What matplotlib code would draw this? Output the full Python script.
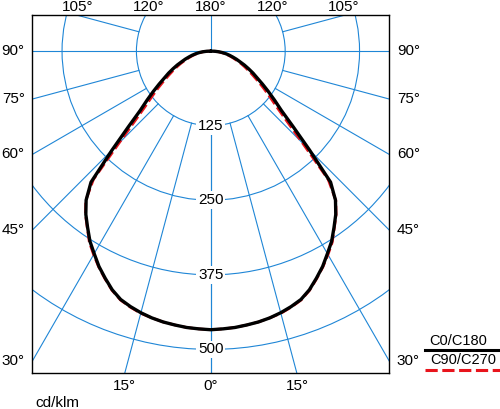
import numpy as np
import matplotlib
matplotlib.use('Agg')
import matplotlib.pyplot as plt
from matplotlib.patches import Circle
from matplotlib.lines import Line2D

plt.rcParams['font.family'] = ['Liberation Sans', 'DejaVu Sans']

# gamma angle from nadir (deg) and luminous intensity (cd/klm)
gamma = [0, 2.5, 5, 7.5, 10, 12.5, 15, 17.5, 20, 22.5, 25, 27.5, 30, 32.5, 35, 37.5, 40, 42.5, 45,
         47.5, 50, 52.5, 55, 57.5, 60, 62.5, 65, 67.5, 70, 72.5, 75, 77.5, 80, 82.5, 85, 87.5, 90]
c0_c180 = [467, 466, 465, 463, 461, 458, 454, 449, 443, 433, 420, 407, 392, 378, 361, 345, 326, 298, 235,
           188, 155, 135, 118, 103, 90, 80, 70, 61, 52, 45, 38, 32, 26, 20, 14, 7, 0]
c90_c270 = [467, 466, 465, 463, 461, 458, 455, 450, 444, 434, 421, 408, 394, 380, 362, 346, 327, 292, 218,
            172, 143, 124, 108, 94, 82, 72, 63, 55, 47, 40, 34, 28, 23, 17, 12, 6, 0]

# grid
rings = [125, 250, 375, 500]
ring_labels = ['125', '250', '375', '500']
spokes = [0, 15, 30, 45, 60, 75, 90, 105, 120]

blue = '#1f86d6'
FS = 11
XMIN, XMAX, YMIN, YMAX = -300, 300, -540, 60

fig = plt.figure(figsize=(5, 4.09), dpi=100)
ax = fig.add_axes([0.0646, 0.0873, 0.714, 0.8753])
ax.set_xlim(XMIN, XMAX)
ax.set_ylim(YMIN, YMAX)
ax.set_xticks([])
ax.set_yticks([])
for s in ax.spines.values():
    s.set_linewidth(1.0)
    s.set_zorder(10)

# circles
for r in rings:
    ax.add_patch(Circle((0, 0), r, fill=False, ec=blue, lw=0.8, zorder=1))

# spokes, starting at the first ring
for g in spokes:
    t = np.radians(g)
    for side in (-1, 1):
        start = 0 if g == 90 else rings[0]
        ax.plot([side * start * np.sin(t), side * 1000 * np.sin(t)],
                [-start * np.cos(t), -1000 * np.cos(t)], color=blue, lw=0.8, zorder=1)
ax.plot([0, 0], [0, 1000], color=blue, lw=0.8, zorder=1)

# ring value labels
for r, lab in zip(rings, ring_labels):
    ax.text(0, -r, lab, ha='center', va='center', fontsize=FS, zorder=5,
            bbox=dict(boxstyle='square,pad=0.12', fc='white', ec='none'))


# angle labels where the spoke meets the frame
def frame_hit(g, side):
    t = np.radians(g)
    dx = side * np.sin(t)
    dy = -np.cos(t)
    tx = (XMAX if dx > 0 else XMIN) / dx if abs(dx) > 1e-9 else np.inf
    ty = (YMAX if dy > 0 else YMIN) / dy if abs(dy) > 1e-9 else np.inf
    if tx < ty:
        return tx * dx, tx * dy, 'side'
    return ty * dx, ty * dy, 'tb'


angle_labels = [(g, side) for g in spokes for side in (-1, 1) if not (g == 0 and side == 1)]
angle_labels.append((180, 1))
for g, side in angle_labels:
    x, y, edge = frame_hit(g, side)
    lab = f'{g}°'
    if edge == 'side':
        off = (-5.5, 0) if x < 0 else (5.5, 0)
        ha = 'right' if x < 0 else 'left'
        ax.annotate(lab, (x, y), xytext=off, textcoords='offset points',
                    ha=ha, va='center', fontsize=FS, annotation_clip=False)
    elif y < 0:
        ax.annotate(lab, (x, y), xytext=(0, -4), textcoords='offset points',
                    ha='center', va='top', fontsize=FS, annotation_clip=False)
    else:
        ax.annotate(lab, (x, y), xytext=(0, 3), textcoords='offset points',
                    ha='center', va='baseline', fontsize=FS, annotation_clip=False)

# curves, mirrored to both sides
g_rad = np.radians(gamma)


def full_curve(vals):
    v = np.array(vals, dtype=float)
    x = np.concatenate([-v[::-1] * np.sin(g_rad[::-1]), v[1:] * np.sin(g_rad[1:])])
    y = np.concatenate([-v[::-1] * np.cos(g_rad[::-1]), -v[1:] * np.cos(g_rad[1:])])
    return x, y


xr, yr = full_curve(c90_c270)
ax.plot(xr, yr, color='#e8141c', lw=1.9, ls=(0, (4, 1.5)), zorder=3)
xb, yb = full_curve(c0_c180)
ax.plot(xb, yb, color='black', lw=2.4, zorder=4, solid_capstyle='round', solid_joinstyle='round')

# legend and unit
fig.text(429 / 500, 1 - 341 / 409, 'C0/C180', ha='left', va='center', fontsize=10.5)
fig.text(430 / 500, 1 - 360 / 409, 'C90/C270', ha='left', va='center', fontsize=10.5)
fig.add_artist(Line2D([0.85, 1.0], [1 - 350 / 409] * 2, color='black', lw=2.2,
                      transform=fig.transFigure))
fig.add_artist(Line2D([0.85, 1.0], [1 - 370 / 409] * 2, color='#e8141c', lw=2.2,
                      ls=(0, (4, 1.5)), transform=fig.transFigure))
fig.text(57 / 500, 1 - 403 / 409, 'cd/klm', ha='center', va='center', fontsize=FS)

fig.savefig('out.png', dpi=100)
